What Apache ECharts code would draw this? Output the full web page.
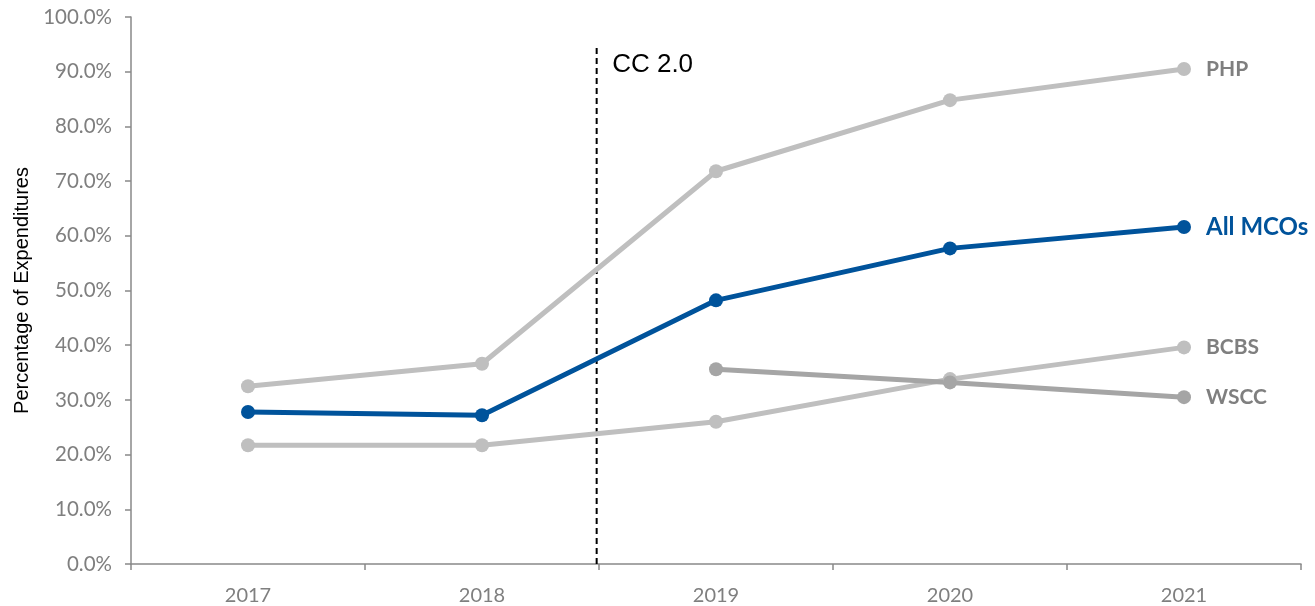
<!DOCTYPE html>
<html>
<head>
<meta charset="utf-8">
<script src="https://cdn.jsdelivr.net/npm/echarts@6/dist/echarts.min.js"></script>
<style>html,body{margin:0;padding:0;background:#fff}#c{width:1315px;height:606px}</style>
</head>
<body>
<div id="c"></div>
<script>
var categories = ['2017', '2018', '2019', '2020', '2021'];
var php = [32.5, 36.6, 71.8, 84.8, 90.5];
var allMCOs = [27.8, 27.2, 48.2, 57.7, 61.6];
var bcbs = [21.7, 21.7, 26.0, 33.8, 39.6];
var wscc = [null, null, 35.6, 33.2, 30.5];
var yTicks = [0, 10, 20, 30, 40, 50, 60, 70, 80, 90, 100];
var cc2Pos = 1.49;   // category index position of the CC 2.0 marker
var cc2Top = 95;

var chart = echarts.init(document.getElementById('c'));

function lastLabel(arr, name, color, size) {
  return arr.map(function (v, i) {
    if (i === arr.length - 1) {
      return {value: v, label: {show: true, position: 'right', distance: 15,
        formatter: name, color: color, fontWeight: 'bold', fontSize: size, fontFamily: 'Lato'}};
    }
    return v;
  });
}

function lineSeries(name, arr, color, labelColor, size) {
  return {
    name: name, type: 'line', data: lastLabel(arr, name, labelColor, size),
    symbol: 'circle', symbolSize: 14, showSymbol: true,
    lineStyle: {color: color, width: 5},
    itemStyle: {color: color},
    label: {show: false},
    emphasis: {disabled: true},
    animation: false, z: 3
  };
}

var option = {
  animation: false,
  grid: {left: 131, right: 14, top: 17, bottom: 42},
  xAxis: [{
    type: 'category', data: categories, boundaryGap: true,
    axisLine: {lineStyle: {color: '#898989', width: 1.5}},
    axisTick: {show: true, length: 6, alignWithLabel: false, lineStyle: {color: '#898989', width: 1.5}},
    axisLabel: {color: '#7f7f7f', fontSize: 20, fontFamily: 'Lato', margin: 22},
    splitLine: {show: false}
  }, {
    type: 'value', min: -0.5, max: 4.5, show: false
  }],
  yAxis: {
    type: 'value', min: 0, max: 100, interval: 10,
    name: 'Percentage of Expenditures', nameLocation: 'middle', nameGap: 97,
    nameTextStyle: {color: '#000', fontSize: 20, fontFamily: 'Liberation Sans'},
    axisLine: {show: true, onZero: false, lineStyle: {color: '#898989', width: 1.5}},
    axisTick: {show: true, length: 6, lineStyle: {color: '#898989', width: 1.5}},
    axisLabel: {color: '#7f7f7f', fontSize: 20.5, fontFamily: 'Lato', margin: 19,
      formatter: function (v) { return v.toFixed(1) + '%'; }},
    splitLine: {show: false}
  },
  series: [
    lineSeries('PHP', php, '#bfbfbf', '#7f7f7f', 21),
    lineSeries('BCBS', bcbs, '#bfbfbf', '#7f7f7f', 21),
    lineSeries('WSCC', wscc, '#a5a5a5', '#7f7f7f', 21),
    lineSeries('All MCOs', allMCOs, '#00539b', '#00539b', 24),
    {
      name: 'CC 2.0', type: 'line', xAxisIndex: 1,
      data: [[cc2Pos, 0], {value: [cc2Pos, cc2Top], label: {show: true, position: 'right',
        offset: [10, 20], formatter: 'CC 2.0', color: '#000', fontSize: 26, fontFamily: 'Liberation Sans'}}],
      symbol: 'circle', symbolSize: 1, showSymbol: true,
      itemStyle: {color: 'rgba(0,0,0,0)'},
      lineStyle: {color: '#000', width: 2, type: [6, 4]},
      emphasis: {disabled: true}, z: 2
    }
  ]
};
chart.setOption(option);
</script>
</body>
</html>
